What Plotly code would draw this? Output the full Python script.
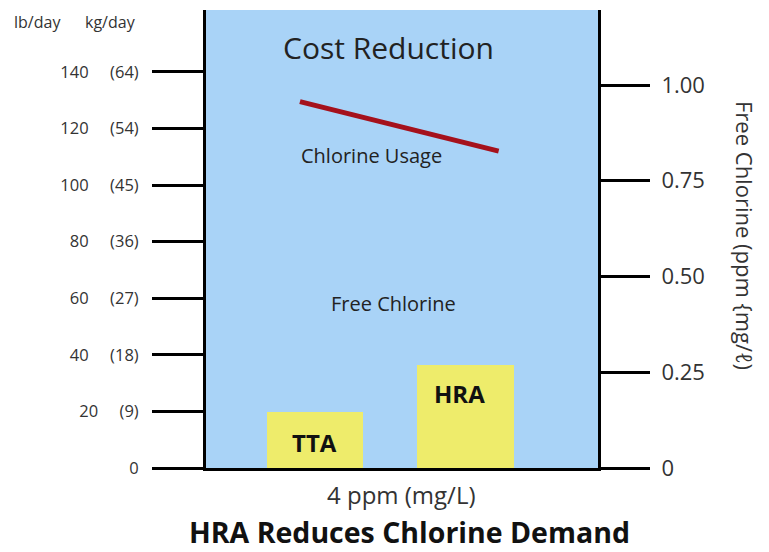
import plotly.graph_objects as go

# ---- data ----
products = ["TTA", "HRA"]
product_pos = [0, 1]
free_chlorine_ppm = [0.146, 0.27]          # right axis (ppm)
usage_x = [-0.10, 1.22]
usage_lb_day = [129.5, 112]                # left axis (lb/day)
lb_ticks = [0, 20, 40, 60, 80, 100, 120, 140]
kg_ticks = ["", "(9)", "(18)", "(27)", "(36)", "(45)", "(54)", "(64)"]
ppm_ticks = [0, 0.25, 0.5, 0.75, 1.0]
ppm_labels = ["0", "0.25", "0.50", "0.75", "1.00"]

FONT = "Open Sans"
BLUE = "#a9d3f7"
YELLOW = "#eeec6b"
RED = "#a5111c"
TXT = "#333333"

left_text = [f"{lb}" if kg == "" else f"{lb}" + "\u00a0" * 5 + f"{kg}"
             for lb, kg in zip(lb_ticks, kg_ticks)]

fig = go.Figure()
fig.add_trace(go.Bar(
    x=product_pos, y=free_chlorine_ppm, width=0.64,
    marker=dict(color=YELLOW, line=dict(width=0)),
    yaxis="y2", showlegend=False, hoverinfo="skip",
))
fig.add_trace(go.Scatter(
    x=usage_x, y=usage_lb_day, mode="lines",
    line=dict(color=RED, width=5), showlegend=False, hoverinfo="skip",
))

fig.update_layout(
    width=769, height=552,
    margin=dict(l=206, r=171, t=10, b=84, autoexpand=False),
    paper_bgcolor="white", plot_bgcolor=BLUE,
    font=dict(family=FONT, color=TXT),
    xaxis=dict(range=[-0.724, 1.88], showgrid=False, zeroline=False,
               showticklabels=False, ticks="", showline=True,
               linecolor="black", linewidth=3),
    yaxis=dict(range=[0, 161.9], tickvals=lb_ticks, ticktext=left_text,
               ticks="outside", ticklen=51, tickwidth=3, tickcolor="black",
               showline=True, linecolor="black", linewidth=3,
               showgrid=False, zeroline=False, ticklabelstandoff=10,
               tickfont=dict(size=16.5, color=TXT, family=FONT)),
    yaxis2=dict(range=[0, 1.196], overlaying="y", side="right",
                tickvals=ppm_ticks, ticktext=ppm_labels,
                ticks="outside", ticklen=49, tickwidth=3, tickcolor="black",
                showline=True, linecolor="black", linewidth=3,
                showgrid=False, zeroline=False, ticklabelstandoff=7,
                tickfont=dict(size=22, color=TXT, family=FONT)),
    bargap=0,
)

pw, ph = 769 - 206 - 171, 552 - 10 - 84
def px(x):
    return (x - 206) / pw
def py(y):
    return 1 - (y - 10) / ph

def note(text, x, y, size, color, xref="paper", angle=0):
    return dict(text=text, x=x, y=py(y), xref=xref, yref="paper",
                xanchor="center", yanchor="middle", showarrow=False,
                textangle=angle, borderpad=0, font=dict(size=size, color=color))

annotations = [
    note("lb/day", px(37), 22, 16, TXT),
    note("kg/day", px(110), 22, 16, TXT),
    note("Cost Reduction", px(388), 48, 30, "#222"),
    note("Chlorine Usage", px(371), 155, 20, "#222"),
    note("Free Chlorine", px(393), 303, 20, "#222"),
    note("<b>TTA</b>", product_pos[0], 442, 24, "#111", xref="x"),
    note("<b>HRA</b>", product_pos[1] - 0.04, 393, 24, "#111", xref="x"),
    note("4 ppm (mg/L)", px(401), 494, 24, TXT),
    note("<b>HRA Reduces Chlorine Demand</b>", px(409), 532, 28.5, "#111"),
    note("Free Chlorine (ppm {mg/ℓ)", px(745), 235, 22, TXT, angle=90),
]
fig.update_layout(annotations=annotations)

fig.write_html("out.html", config={"displayModeBar": False},
               post_script="document.body.style.margin='0';")
